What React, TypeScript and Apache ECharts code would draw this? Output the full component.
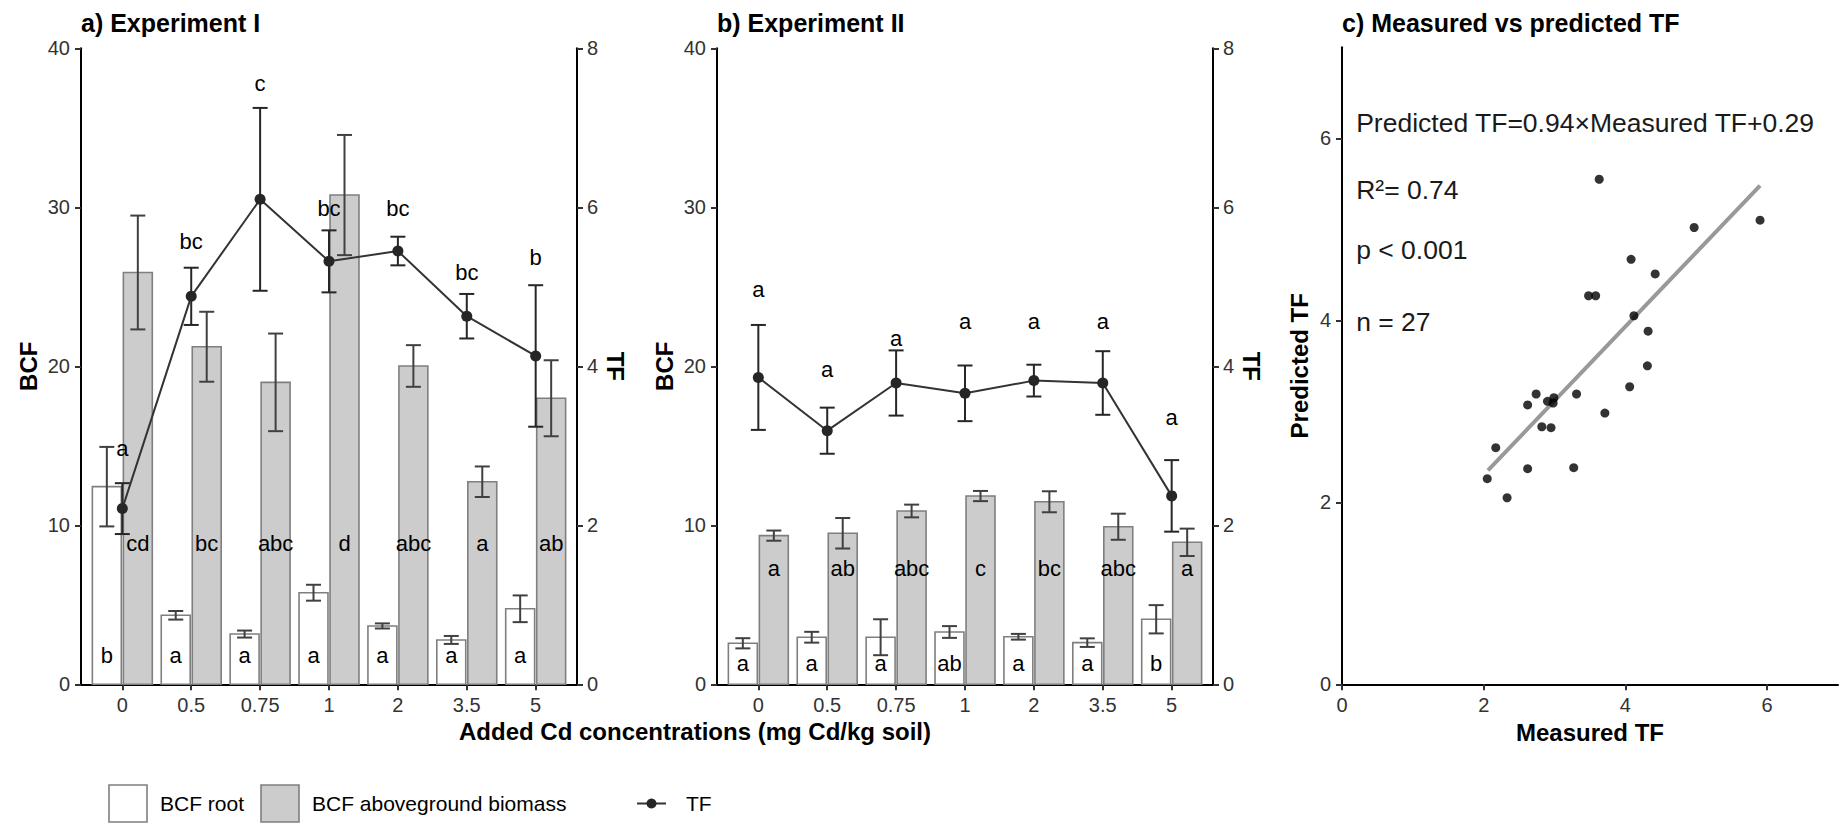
import React, { useEffect, useRef } from 'react';
import * as echarts from 'echarts';

const FONT = '"Liberation Sans", Arial, Helvetica, sans-serif';

// ---------- data ----------
const categories = ['0', '0.5', '0.75', '1', '2', '3.5', '5'];
const categoryIndex = [0, 1, 2, 3, 4, 5, 6];

// Experiment I
const rootBcfA = [12.43, 4.34, 3.16, 5.76, 3.67, 2.79, 4.75];
const rootSeA = [2.5, 0.27, 0.22, 0.5, 0.16, 0.25, 0.84];
const shootBcfA = [25.9, 21.23, 18.99, 30.77, 20.02, 12.74, 17.99];
const shootSeA = [3.58, 2.2, 3.07, 3.78, 1.31, 0.96, 2.39];
const tfA = [2.21, 4.88, 6.1, 5.32, 5.45, 4.63, 4.13];
const tfSeA = [0.32, 0.36, 1.15, 0.39, 0.18, 0.28, 0.89];
const tfLettersA = ['a', 'bc', 'c', 'bc', 'bc', 'bc', 'b'];
const tfLetterYA = [2.97, 5.57, 7.56, 5.98, 5.98, 5.18, 5.37];
const rootLettersA = ['b', 'a', 'a', 'a', 'a', 'a', 'a'];
const shootLettersA = ['cd', 'bc', 'abc', 'd', 'abc', 'a', 'ab'];
const rootLetterYA = 1.84;
const shootLetterYA = 8.87;

// Experiment II
const rootBcfB = [2.58, 2.96, 2.96, 3.29, 2.99, 2.62, 4.09];
const rootSeB = [0.32, 0.34, 1.13, 0.37, 0.18, 0.27, 0.89];
const shootBcfB = [9.35, 9.5, 10.9, 11.84, 11.48, 9.91, 8.93];
const shootSeB = [0.32, 0.96, 0.4, 0.32, 0.66, 0.82, 0.86];
const tfB = [3.86, 3.19, 3.79, 3.66, 3.82, 3.79, 2.37];
const tfSeB = [0.66, 0.29, 0.41, 0.35, 0.2, 0.4, 0.45];
const tfLettersB = ['a', 'a', 'a', 'a', 'a', 'a', 'a'];
const tfLetterYB = [4.96, 3.96, 4.35, 4.56, 4.56, 4.56, 3.36];
const rootLettersB = ['a', 'a', 'a', 'ab', 'a', 'a', 'b'];
const shootLettersB = ['a', 'ab', 'abc', 'c', 'bc', 'abc', 'a'];
const rootLetterYB = 1.32;
const shootLetterYB = 7.3;

// Measured vs predicted TF
const measuredTF = [3.63, 5.9, 4.97, 4.08, 4.42, 3.48, 3.58, 4.12, 4.32, 4.31, 4.06, 2.74, 3.31, 2.99, 2.9, 2.98, 2.62, 3.71, 2.82, 2.95, 2.17, 2.62, 3.27, 2.05, 2.33];
const predictedTF = [5.55, 5.1, 5.02, 4.67, 4.51, 4.27, 4.27, 4.05, 3.88, 3.5, 3.27, 3.19, 3.19, 3.15, 3.11, 3.09, 3.07, 2.98, 2.83, 2.82, 2.6, 2.37, 2.38, 2.26, 2.05];
const fitMeasured = [2.06, 5.9];
const fitPredicted = [2.35, 5.48];
const statLines = ['Predicted TF=0.94×Measured TF+0.29', 'R²= 0.74', 'p < 0.001', 'n = 27'];
const statLineY = [6.17, 5.43, 4.77, 3.98];
const statLineX = 0.2;

// ---------- styles ----------
const BAR_HALF = 0.21;
const BAR_OFFSET = 0.225;
const CAP_PX = 7.5;
const BORDER = '#7f7f7f';
const GRAY_FILL = '#cccccc';
const ERR_COLOR = '#404040';
const TF_COLOR = '#262626';

const axisLineStyle = { show: true, onZero: false, lineStyle: { color: '#000', width: 2 } };
const tickStyle = { show: true, length: 6, lineStyle: { color: '#333', width: 2 } };
const labelBase = { fontSize: 20, color: '#333', fontFamily: FONT };
const nameStyle = { fontSize: 24, fontWeight: 'bold', color: '#000', fontFamily: FONT };

function errorBar(cx: number, yTop: number, yBot: number, color: string) {
  return [
    { type: 'line', shape: { x1: cx, y1: yTop, x2: cx, y2: yBot }, style: { stroke: color, lineWidth: 2 } },
    { type: 'line', shape: { x1: cx - CAP_PX, y1: yTop, x2: cx + CAP_PX, y2: yTop }, style: { stroke: color, lineWidth: 2 } },
    { type: 'line', shape: { x1: cx - CAP_PX, y1: yBot, x2: cx + CAP_PX, y2: yBot }, style: { stroke: color, lineWidth: 2 } },
  ];
}

function barSeries(name: string, xAxisIndex: number, yAxisIndex: number, values: number[], ses: number[], letters: string[], letterY: number, offset: number, fill: string) {
  return {
    type: 'custom',
    name,
    xAxisIndex,
    yAxisIndex,
    z: 1,
    data: values.map((v, i) => [categoryIndex[i], v, ses[i]]),
    renderItem: (params: any, api: any) => {
      const i = api.value(0);
      const v = api.value(1);
      const se = api.value(2);
      const tl = api.coord([i + offset - BAR_HALF, v]);
      const br = api.coord([i + offset + BAR_HALF, 0]);
      const top = api.coord([i + offset, v + se]);
      const bot = api.coord([i + offset, v - se]);
      const lab = api.coord([i + offset, letterY]);
      return {
        type: 'group',
        children: [
          { type: 'rect', shape: { x: tl[0], y: tl[1], width: br[0] - tl[0], height: br[1] - tl[1] }, style: { fill, stroke: BORDER, lineWidth: 1.6 } },
          ...errorBar(top[0], top[1], bot[1], ERR_COLOR),
          { type: 'text', x: lab[0], y: lab[1], style: { text: letters[params.dataIndex], fill: '#000', fontSize: 22, fontFamily: FONT, align: 'center', verticalAlign: 'middle' } },
        ],
      };
    },
  };
}

function tfErrSeries(xAxisIndex: number, yAxisIndex: number, values: number[], ses: number[], letters: string[], letterY: number[]) {
  return {
    type: 'custom',
    name: 'TF',
    xAxisIndex,
    yAxisIndex,
    z: 3,
    data: values.map((v, i) => [categoryIndex[i], v, ses[i], letterY[i]]),
    renderItem: (params: any, api: any) => {
      const i = api.value(0);
      const v = api.value(1);
      const se = api.value(2);
      const top = api.coord([i, v + se]);
      const bot = api.coord([i, v - se]);
      const lab = api.coord([i, api.value(3)]);
      return {
        type: 'group',
        children: [
          ...errorBar(top[0], top[1], bot[1], TF_COLOR),
          { type: 'text', x: lab[0], y: lab[1], style: { text: letters[params.dataIndex], fill: '#000', fontSize: 22, fontFamily: FONT, align: 'center', verticalAlign: 'middle' } },
        ],
      };
    },
  };
}

function tfLine(xAxisIndex: number, yAxisIndex: number, values: number[]) {
  return {
    type: 'line',
    name: 'TF',
    xAxisIndex,
    yAxisIndex,
    z: 4,
    data: values.map((v, i) => [categoryIndex[i], v]),
    symbol: 'circle',
    symbolSize: 11,
    itemStyle: { color: TF_COLOR },
    lineStyle: { color: '#333', width: 2 },
  };
}

function catXAxis(gridIndex: number) {
  return {
    type: 'value',
    gridIndex,
    min: -0.6,
    max: 6.6,
    axisLine: axisLineStyle,
    axisTick: { ...tickStyle, customValues: categoryIndex },
    axisLabel: { ...labelBase, margin: 11, customValues: categoryIndex, formatter: (v: number) => categories[Math.round(v)] ?? '' },
    splitLine: { show: false },
  };
}

function bcfYAxis(gridIndex: number) {
  return {
    type: 'value',
    gridIndex,
    position: 'left',
    min: 0,
    max: 40,
    interval: 10,
    name: 'BCF',
    nameLocation: 'middle',
    nameRotate: 90,
    nameGap: 41,
    nameTextStyle: nameStyle,
    axisLine: axisLineStyle,
    axisTick: tickStyle,
    axisLabel: { ...labelBase, margin: 11 },
    splitLine: { show: false },
  };
}

function tfYAxis(gridIndex: number) {
  return {
    type: 'value',
    gridIndex,
    position: 'right',
    min: 0,
    max: 8,
    interval: 2,
    name: 'TF',
    nameLocation: 'middle',
    nameRotate: -90,
    nameGap: 26,
    nameTextStyle: nameStyle,
    axisLine: axisLineStyle,
    axisTick: tickStyle,
    axisLabel: { ...labelBase, margin: 10 },
    splitLine: { show: false },
  };
}

export default function App() {
  const ref = useRef<HTMLDivElement>(null);

  useEffect(() => {
    if (!ref.current) return;
    const chart = echarts.init(ref.current, null, { renderer: 'svg' });
    const option: any = {
      animation: false,
      backgroundColor: '#ffffff',
      grid: [
        { left: 81, top: 48.3, width: 496, height: 636 },
        { left: 717, top: 48.3, width: 496, height: 636 },
        { left: 1342, top: 47.3, width: 496, height: 637 },
      ],
      xAxis: [
        catXAxis(0),
        catXAxis(1),
        {
          type: 'value',
          gridIndex: 2,
          min: 0,
          max: 7,
          name: 'Measured TF',
          nameLocation: 'middle',
          nameGap: 35,
          nameTextStyle: nameStyle,
          axisLine: axisLineStyle,
          axisTick: { ...tickStyle, customValues: [0, 2, 4, 6] },
          axisLabel: { ...labelBase, margin: 11, customValues: [0, 2, 4, 6] },
          splitLine: { show: false },
        },
      ],
      yAxis: [
        bcfYAxis(0),
        tfYAxis(0),
        bcfYAxis(1),
        tfYAxis(1),
        {
          type: 'value',
          gridIndex: 2,
          min: 0,
          max: 7,
          name: 'Predicted TF',
          nameLocation: 'middle',
          nameRotate: 90,
          nameGap: 31,
          nameTextStyle: nameStyle,
          axisLine: axisLineStyle,
          axisTick: { ...tickStyle, customValues: [0, 2, 4, 6] },
          axisLabel: { ...labelBase, margin: 11, customValues: [0, 2, 4, 6] },
          splitLine: { show: false },
        },
      ],
      series: [
        barSeries('BCF root', 0, 0, rootBcfA, rootSeA, rootLettersA, rootLetterYA, -BAR_OFFSET, '#ffffff'),
        barSeries('BCF aboveground biomass', 0, 0, shootBcfA, shootSeA, shootLettersA, shootLetterYA, BAR_OFFSET, GRAY_FILL),
        tfErrSeries(0, 1, tfA, tfSeA, tfLettersA, tfLetterYA),
        tfLine(0, 1, tfA),
        barSeries('BCF root', 1, 2, rootBcfB, rootSeB, rootLettersB, rootLetterYB, -BAR_OFFSET, '#ffffff'),
        barSeries('BCF aboveground biomass', 1, 2, shootBcfB, shootSeB, shootLettersB, shootLetterYB, BAR_OFFSET, GRAY_FILL),
        tfErrSeries(1, 3, tfB, tfSeB, tfLettersB, tfLetterYB),
        tfLine(1, 3, tfB),
        {
          type: 'line',
          name: 'fit',
          xAxisIndex: 2,
          yAxisIndex: 4,
          z: 3,
          symbol: 'none',
          data: fitMeasured.map((x, i) => [x, fitPredicted[i]]),
          lineStyle: { color: '#999999', width: 4 },
        },
        {
          type: 'scatter',
          name: 'TF points',
          xAxisIndex: 2,
          yAxisIndex: 4,
          z: 4,
          symbolSize: 9,
          data: measuredTF.map((m, i) => [m, predictedTF[i]]),
          itemStyle: { color: '#000000' },
        },
        {
          type: 'custom',
          name: 'stats',
          xAxisIndex: 2,
          yAxisIndex: 4,
          z: 5,
          data: statLineY.map((y) => [statLineX, y]),
          renderItem: (params: any, api: any) => {
            const p = api.coord([api.value(0), api.value(1)]);
            return {
              type: 'text',
              x: p[0],
              y: p[1],
              style: { text: statLines[params.dataIndex], fill: '#1a1a1a', fontSize: 26.5, fontFamily: FONT, align: 'left', verticalAlign: 'middle' },
            };
          },
        },
      ],
      graphic: [
        { type: 'text', x: 81, y: 23, style: { text: 'a) Experiment I', fill: '#000', fontSize: 25, fontWeight: 'bold', fontFamily: FONT, verticalAlign: 'middle' } },
        { type: 'text', x: 717, y: 23, style: { text: 'b) Experiment II', fill: '#000', fontSize: 25, fontWeight: 'bold', fontFamily: FONT, verticalAlign: 'middle' } },
        { type: 'text', x: 1342, y: 23, style: { text: 'c) Measured vs predicted TF', fill: '#000', fontSize: 25, fontWeight: 'bold', fontFamily: FONT, verticalAlign: 'middle' } },
        { type: 'text', x: 459, y: 731, style: { text: 'Added Cd concentrations (mg Cd/kg soil)', fill: '#000', fontSize: 24, fontWeight: 'bold', fontFamily: FONT, verticalAlign: 'middle' } },
        // legend
        { type: 'rect', shape: { x: 109, y: 785, width: 38, height: 37 }, style: { fill: '#ffffff', stroke: BORDER, lineWidth: 1.6 } },
        { type: 'text', x: 160, y: 803.5, style: { text: 'BCF root', fill: '#000', fontSize: 21, fontFamily: FONT, verticalAlign: 'middle' } },
        { type: 'rect', shape: { x: 261, y: 785, width: 38, height: 37 }, style: { fill: GRAY_FILL, stroke: BORDER, lineWidth: 1.6 } },
        { type: 'text', x: 312, y: 803.5, style: { text: 'BCF aboveground biomass', fill: '#000', fontSize: 21, fontFamily: FONT, verticalAlign: 'middle' } },
        { type: 'line', shape: { x1: 637, y1: 803.5, x2: 666, y2: 803.5 }, style: { stroke: '#333', lineWidth: 2 } },
        { type: 'circle', shape: { cx: 651.5, cy: 803.5, r: 5 }, style: { fill: TF_COLOR } },
        { type: 'text', x: 686, y: 803.5, style: { text: 'TF', fill: '#000', fontSize: 21, fontFamily: FONT, verticalAlign: 'middle' } },
      ],
    };
    chart.setOption(option);
    return () => chart.dispose();
  }, []);

  return <div ref={ref} style={{ position: 'absolute', left: 0, top: 0, width: 1839, height: 823, background: '#fff' }} />;
}
